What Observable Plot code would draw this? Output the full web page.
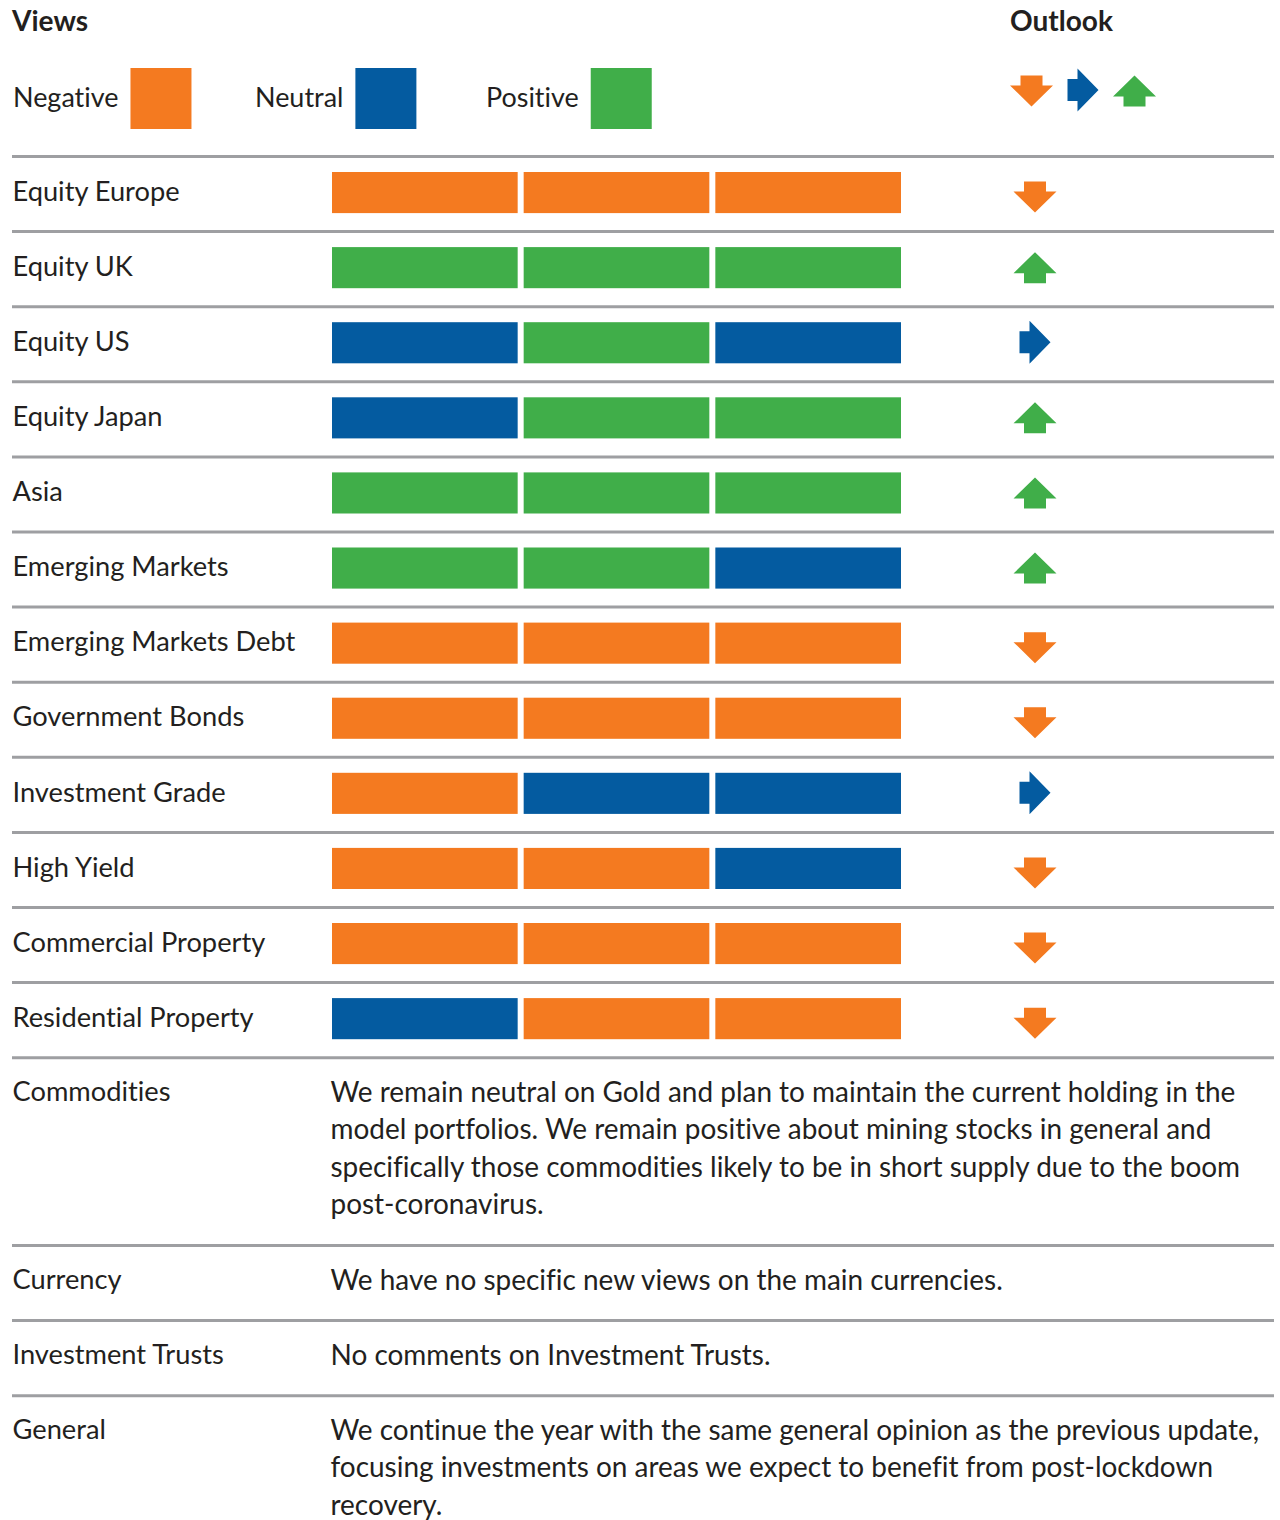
<!DOCTYPE html>
<html><head><meta charset="utf-8">
<script src="https://cdn.jsdelivr.net/npm/d3@7"></script>
<script src="https://cdn.jsdelivr.net/npm/@observablehq/plot@0.6"></script>
<style>
html,body{margin:0;padding:0;background:#fff}
#page{position:relative;width:1280px;height:1520px;overflow:hidden;background:#fff}
#header{position:absolute;left:0;top:0}
#chart{position:absolute;left:0;top:140px}
svg text{font-variant-ligatures:none}
</style></head><body>
<div id="page"><div id="header"></div><div id="chart"></div></div>
<script>
// ---------- data ----------
const categories = ["Equity Europe","Equity UK","Equity US","Equity Japan","Asia","Emerging Markets","Emerging Markets Debt","Government Bonds","Investment Grade","High Yield","Commercial Property","Residential Property"];
const viewPeriod1 = ["Negative","Positive","Neutral","Neutral","Positive","Positive","Negative","Negative","Negative","Negative","Negative","Neutral"];
const viewPeriod2 = ["Negative","Positive","Positive","Positive","Positive","Positive","Negative","Negative","Neutral","Negative","Negative","Negative"];
const viewPeriod3 = ["Negative","Positive","Neutral","Positive","Positive","Neutral","Negative","Negative","Neutral","Neutral","Negative","Negative"];
const outlook = ["down","up","right","up","up","up","down","down","right","down","down","down"];
const commentCategories = ["Commodities","Currency","Investment Trusts","General"];
const comments = [
  "We remain neutral on Gold and plan to maintain the current holding in the\nmodel portfolios. We remain positive about mining stocks in general and\nspecifically those commodities likely to be in short supply due to the boom\npost-coronavirus.",
  "We have no specific new views on the main currencies.",
  "No comments on Investment Trusts.",
  "We continue the year with the same general opinion as the previous update,\nfocusing investments on areas we expect to benefit from post-lockdown\nrecovery."
];
const viewLevels = ["Negative","Neutral","Positive"];
const viewColors = ["#F47A20","#045BA0","#40AE49"];
const outlookDirections = ["down","right","up"];
const outlookColors = ["#F47A20","#045BA0","#40AE49"];

// ---------- style ----------
const FONT = "Lato";
const TEXT = "#231f20";
const RULE = "#9e9fa2";
const cnv = document.createElement("canvas").getContext("2d");
function fit(text, target, weight = "normal") {
  cnv.font = `${weight} 100px ${FONT}`;
  return 100 * target / cnv.measureText(text).width;
}
const fsLabel = fit("Emerging Markets Debt", 283);
const fsComment = fit("We remain neutral on Gold and plan to maintain the current holding in the", 905);
const fsTitle = fit("Outlook", 103, "bold");
const fsLegend = fit("Negative", 106);

// arrow symbols (custom d3 symbol types)
function poly(pts) {
  return {draw(ctx) { ctx.moveTo(pts[0][0], pts[0][1]); for (const p of pts.slice(1)) ctx.lineTo(p[0], p[1]); ctx.closePath(); }};
}
const arrowSymbols = {
  down: poly([[-11,-15.5],[11,-15.5],[11,-5.5],[21.5,-5.5],[0,15.5],[-21.5,-5.5],[-11,-5.5]]),
  up: poly([[-11,15.5],[11,15.5],[11,5.5],[21.5,5.5],[0,-15.5],[-21.5,5.5],[-11,5.5]]),
  right: poly([[-15.5,-11],[-5.5,-11],[-5.5,-21.5],[15.5,0],[-5.5,21.5],[-5.5,11],[-15.5,11]])
};
const arrowDy = {down: 3, up: -1.5, right: -2};

// ---------- header (titles + legend) ----------
const hdr = d3.select("#header").append("svg").attr("width", 1280).attr("height", 140)
  .style("font-family", FONT).style("fill", TEXT);
hdr.append("text").attr("x", 12).attr("y", 31).attr("font-weight", "bold").attr("font-size", fsTitle).text("Views");
hdr.append("text").attr("x", 1010).attr("y", 31).attr("font-weight", "bold").attr("font-size", fsTitle).text("Outlook");
const legendX = [13, 255, 486];
viewLevels.forEach((lv, i) => {
  const t = hdr.append("text").attr("x", legendX[i]).attr("y", 107).attr("font-size", fsLegend).text(lv);
  const w = t.node().getComputedTextLength();
  hdr.append("rect").attr("x", legendX[i] + w + 12).attr("y", 68).attr("width", 61).attr("height", 61).attr("fill", viewColors[i]);
});
const legendArrowX = [1031.5, 1083, 1134.5];
const legendArrowY = [91, 90, 91];
outlookDirections.forEach((d, i) => {
  hdr.append("path").attr("transform", `translate(${legendArrowX[i]},${legendArrowY[i]})`)
    .attr("d", d3.symbol().type(arrowSymbols[d])()).attr("fill", outlookColors[i]);
});

// ---------- table data ----------
const rows = categories.map((c, i) => ({category: c, row: i, outlook: outlook[i]}));
const periods = [viewPeriod1, viewPeriod2, viewPeriod3];
const cells = [];
periods.forEach((p, j) => p.forEach((v, i) => cells.push({row: i, period: j, view: v})));
let rowTop = categories.length;
const commentRows = commentCategories.map((c, i) => {
  const lines = comments[i].split("\n").length;
  const r = {category: c, comment: comments[i], top: rowTop};
  rowTop += 0.5 + 0.5 * lines;
  return r;
});
const ruleRows = d3.range(categories.length + 1).concat(commentRows.slice(1).map(d => d.top));

const UNIT = 75.1;
const chart = Plot.plot({
  width: 1280, height: 1380,
  marginLeft: 0, marginRight: 0, marginTop: 0, marginBottom: 0,
  x: {domain: [0, 3], range: [329, 904], axis: null},
  y: {domain: [0, 18], range: [16, 16 + 18 * UNIT], axis: null},
  color: {domain: viewLevels, range: viewColors},
  style: {fontFamily: FONT, color: TEXT, background: "#fff", overflow: "visible"},
  marks: [
    Plot.ruleY(ruleRows, {y: d => d, stroke: RULE, strokeWidth: 3, insetLeft: 12, insetRight: 6}),
    Plot.rect(cells, {x1: d => d.period, x2: d => d.period + 1, y1: d => d.row, y2: d => d.row + 1,
      fill: "view", insetLeft: 3, insetRight: 3, insetTop: 16, insetBottom: 18}),
    Plot.text(rows, {y: d => d.row + 0.5, text: "category", frameAnchor: "left", textAnchor: "start",
      dx: 12, dy: -2, fontSize: fsLabel, fill: TEXT}),
    ...outlookDirections.map((dir, k) => Plot.dot(rows.filter(r => r.outlook === dir), {
      x: () => 3, y: d => d.row + 0.5, dx: 130.5, dy: arrowDy[dir],
      symbol: arrowSymbols[dir], fill: outlookColors[k], stroke: "none"})),
    Plot.text(commentRows, {y: d => d.top + 0.5, text: "category", frameAnchor: "left", textAnchor: "start",
      dx: 12, dy: -3, fontSize: fsLabel, fill: TEXT}),
    Plot.text(commentRows, {x: () => 0, y: d => d.top + 0.5, text: "comment", textAnchor: "start",
      lineAnchor: "top", lineHeight: 37.5 / fsComment, dx: 1, dy: -9 - 0.39 * fsComment,
      fontSize: fsComment, fill: TEXT})
  ]
});
document.getElementById("chart").appendChild(chart);
</script>
</body></html>
